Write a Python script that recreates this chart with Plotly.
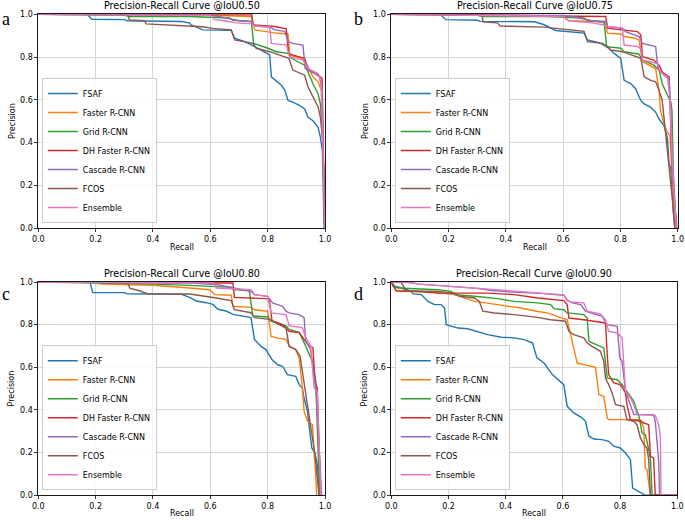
import plotly.graph_objects as go

# ---------------- data: (recall, precision) points ----------------
SERIES = ["FSAF", "Faster R-CNN", "Grid R-CNN", "DH Faster R-CNN", "Cascade R-CNN", "FCOS", "Ensemble"]
COLORS = ["#1f77b4", "#ff7f0e", "#2ca02c", "#d62728", "#9467bd", "#8c564b", "#e377c2"]
TITLES = ["Precision-Recall Curve @IoU0.50", "Precision-Recall Curve @IoU0.75",
          "Precision-Recall Curve @IoU0.80", "Precision-Recall Curve @IoU0.90"]
PANEL_LETTERS = ["a", "b", "c", "d"]
TICKS = [0.0, 0.2, 0.4, 0.6, 0.8, 1.0]

# Panel a  (IoU 0.50)
A_FSAF = [(0, 1.0), (0.171, 1.0), (0.186, 0.977), (0.30, 0.975), (0.31, 0.970), (0.50, 0.966), (0.528, 0.959),
          (0.533, 0.95), (0.574, 0.927), (0.673, 0.925), (0.685, 0.888), (0.72, 0.872), (0.755, 0.849),
          (0.784, 0.825), (0.807, 0.81), (0.813, 0.707), (0.83, 0.69), (0.848, 0.668), (0.86, 0.644),
          (0.871, 0.597), (0.888, 0.589), (0.912, 0.573), (0.929, 0.557), (0.941, 0.518), (0.958, 0.502),
          (0.976, 0.471), (0.984, 0.424), (0.991, 0.361), (0.993, 0.235), (0.997, 0.0)]
A_FASTER = [(0, 1.0), (0.3, 1.0), (0.6, 0.995), (0.743, 0.99), (0.755, 0.927), (0.795, 0.919), (0.836, 0.911),
            (0.871, 0.908), (0.877, 0.809), (0.923, 0.794), (0.941, 0.754), (0.958, 0.707), (0.976, 0.684),
            (0.987, 0.644), (0.993, 0.392), (0.999, 0.0)]
A_GRID = [(0, 1.0), (0.3, 0.995), (0.32, 0.99), (0.528, 0.99), (0.667, 0.983), (0.679, 0.972), (0.743, 0.967),
          (0.751, 0.864), (0.801, 0.841), (0.83, 0.825), (0.871, 0.817), (0.883, 0.794), (0.929, 0.762),
          (0.941, 0.73), (0.958, 0.675), (0.976, 0.628), (0.984, 0.58), (0.993, 0.392), (0.999, 0.0)]
A_DH = [(0, 1.0), (0.745, 0.998), (0.749, 0.951), (0.824, 0.943), (0.865, 0.932), (0.873, 0.817), (0.888, 0.809),
        (0.929, 0.794), (0.941, 0.739), (0.976, 0.715), (0.99, 0.699), (0.993, 0.392), (0.999, 0.0)]
A_CASCADE = [(0, 1.0), (0.6, 0.995), (0.63, 0.99), (0.65, 0.985), (0.7, 0.97), (0.745, 0.965), (0.755, 0.945),
             (0.81, 0.94), (0.824, 0.927), (0.86, 0.92), (0.871, 0.872), (0.888, 0.864), (0.923, 0.856),
             (0.931, 0.746), (0.958, 0.73), (0.981, 0.707), (0.99, 0.644), (0.993, 0.392), (0.999, 0.0)]
A_FCOS = [(0, 1.0), (0.312, 1.0), (0.318, 0.973), (0.37, 0.97), (0.376, 0.955), (0.50, 0.945), (0.573, 0.942),
          (0.608, 0.934), (0.673, 0.927), (0.685, 0.88), (0.72, 0.872), (0.749, 0.864), (0.76, 0.841),
          (0.807, 0.825), (0.842, 0.809), (0.874, 0.794), (0.888, 0.739), (0.912, 0.723), (0.929, 0.715),
          (0.941, 0.66), (0.958, 0.613), (0.976, 0.566), (0.984, 0.518), (0.993, 0.392), (0.999, 0.0)]
A_ENSEMBLE = [(0, 1.0), (0.6, 0.995), (0.615, 0.975), (0.65, 0.97), (0.69, 0.96), (0.745, 0.955), (0.755, 0.945),
              (0.807, 0.94), (0.813, 0.864), (0.865, 0.856), (0.877, 0.802), (0.923, 0.786), (0.941, 0.746),
              (0.976, 0.723), (0.987, 0.691), (0.993, 0.392), (0.999, 0.0)]

# Panel b  (IoU 0.75)
B_FSAF = [(0, 1.0), (0.17, 1.0), (0.19, 0.975), (0.30, 0.972), (0.31, 0.967), (0.50, 0.965), (0.534, 0.951),
          (0.574, 0.924), (0.673, 0.912), (0.685, 0.88), (0.731, 0.865), (0.76, 0.841), (0.778, 0.817),
          (0.801, 0.794), (0.813, 0.691), (0.836, 0.676), (0.853, 0.652), (0.871, 0.597), (0.883, 0.581),
          (0.906, 0.565), (0.923, 0.542), (0.935, 0.51), (0.952, 0.479), (0.964, 0.424), (0.97, 0.298),
          (0.976, 0.28), (0.985, 0.07), (0.99, 0.0)]
B_FASTER = [(0, 1.0), (0.3, 1.0), (0.6, 0.99), (0.62, 0.97), (0.745, 0.965), (0.755, 0.912), (0.801, 0.908),
            (0.813, 0.896), (0.853, 0.888), (0.865, 0.88), (0.877, 0.778), (0.9, 0.762), (0.923, 0.746),
            (0.935, 0.644), (0.94, 0.55), (0.952, 0.487), (0.964, 0.448), (0.973, 0.432), (0.982, 0.2), (0.99, 0.0)]
B_GRID = [(0, 1.0), (0.3, 0.995), (0.32, 0.99), (0.534, 0.99), (0.673, 0.983), (0.685, 0.972), (0.743, 0.962),
          (0.752, 0.849), (0.801, 0.841), (0.813, 0.825), (0.865, 0.813), (0.877, 0.786), (0.917, 0.762),
          (0.935, 0.739), (0.946, 0.675), (0.964, 0.628), (0.976, 0.589), (0.98, 0.55), (0.985, 0.25), (0.995, 0.0)]
B_DH = [(0, 1.0), (0.749, 0.99), (0.755, 0.935), (0.801, 0.927), (0.859, 0.919), (0.871, 0.904), (0.877, 0.802),
        (0.917, 0.786), (0.935, 0.762), (0.946, 0.73), (0.964, 0.715), (0.97, 0.707), (0.98, 0.3), (0.99, 0.1),
        (0.998, 0.0)]
B_CASCADE = [(0, 1.0), (0.6, 0.995), (0.65, 0.985), (0.7, 0.97), (0.749, 0.967), (0.755, 0.943), (0.807, 0.935),
             (0.818, 0.919), (0.865, 0.896), (0.877, 0.864), (0.923, 0.849), (0.931, 0.746), (0.952, 0.715),
             (0.97, 0.699), (0.976, 0.55), (0.982, 0.25), (0.995, 0.0)]
B_FCOS = [(0, 1.0), (0.275, 1.0), (0.317, 0.995), (0.32, 0.965), (0.37, 0.96), (0.38, 0.945), (0.534, 0.94),
          (0.60, 0.93), (0.673, 0.92), (0.685, 0.872), (0.737, 0.864), (0.755, 0.849), (0.766, 0.833),
          (0.807, 0.825), (0.842, 0.809), (0.871, 0.794), (0.883, 0.707), (0.906, 0.691), (0.923, 0.684),
          (0.935, 0.644), (0.946, 0.597), (0.952, 0.518), (0.962, 0.392), (0.973, 0.266), (0.981, 0.14), (0.99, 0.0)]
B_ENSEMBLE = [(0, 1.0), (0.6, 0.99), (0.62, 0.97), (0.70, 0.96), (0.745, 0.95), (0.755, 0.943), (0.807, 0.935),
              (0.813, 0.856), (0.859, 0.849), (0.871, 0.841), (0.877, 0.786), (0.929, 0.77), (0.94, 0.73),
              (0.964, 0.707), (0.973, 0.613), (0.981, 0.313), (0.995, 0.0)]

# Panel c  (IoU 0.80)
C_FSAF = [(0, 1.0), (0.18, 1.0), (0.19, 0.95), (0.30, 0.95), (0.31, 0.945), (0.50, 0.942), (0.528, 0.928),
          (0.551, 0.911), (0.586, 0.903), (0.609, 0.895), (0.627, 0.872), (0.655, 0.864), (0.679, 0.848),
          (0.713, 0.841), (0.742, 0.833), (0.754, 0.73), (0.777, 0.698), (0.794, 0.683), (0.815, 0.636),
          (0.835, 0.612), (0.852, 0.605), (0.869, 0.566), (0.898, 0.558), (0.91, 0.519), (0.921, 0.503),
          (0.927, 0.456), (0.939, 0.394), (0.944, 0.331), (0.954, 0.222), (0.965, 0.198), (0.973, 0.144),
          (0.981, 0.02), (0.985, 0.0)]
C_FASTER = [(0, 1.0), (0.2, 1.0), (0.22, 0.99), (0.4, 0.985), (0.528, 0.972), (0.598, 0.964), (0.615, 0.941),
            (0.673, 0.938), (0.679, 0.886), (0.742, 0.881), (0.754, 0.87), (0.8, 0.863), (0.812, 0.745),
            (0.835, 0.737), (0.864, 0.731), (0.875, 0.7), (0.898, 0.683), (0.91, 0.644), (0.921, 0.503),
            (0.927, 0.394), (0.939, 0.347), (0.956, 0.331), (0.968, 0.081), (0.971, 0.0)]
C_GRID = [(0, 1.0), (0.3, 0.995), (0.4, 0.99), (0.528, 0.984), (0.673, 0.975), (0.679, 0.964), (0.736, 0.959),
          (0.748, 0.841), (0.8, 0.836), (0.812, 0.817), (0.864, 0.794), (0.875, 0.778), (0.91, 0.763),
          (0.927, 0.716), (0.944, 0.659), (0.956, 0.628), (0.968, 0.534), (0.973, 0.316), (0.981, 0.0)]
C_DH = [(0, 1.0), (0.679, 0.995), (0.684, 0.928), (0.794, 0.922), (0.806, 0.917), (0.815, 0.819), (0.852, 0.8),
        (0.875, 0.769), (0.91, 0.763), (0.927, 0.731), (0.944, 0.7), (0.958, 0.692), (0.965, 0.534),
        (0.973, 0.503), (0.979, 0.238), (0.985, 0.0)]
C_CASCADE = [(0, 1.0), (0.528, 0.995), (0.621, 0.988), (0.684, 0.972), (0.742, 0.956), (0.754, 0.941),
             (0.8, 0.933), (0.817, 0.902), (0.852, 0.886), (0.864, 0.863), (0.875, 0.855), (0.91, 0.847),
             (0.927, 0.833), (0.933, 0.722), (0.95, 0.683), (0.962, 0.55), (0.968, 0.503), (0.979, 0.238),
             (0.988, 0.0)]
C_FCOS = [(0, 1.0), (0.31, 1.0), (0.32, 0.97), (0.35, 0.96), (0.38, 0.945), (0.528, 0.944), (0.621, 0.925),
          (0.673, 0.913), (0.684, 0.87), (0.742, 0.856), (0.754, 0.833), (0.806, 0.825), (0.84, 0.8),
          (0.864, 0.784), (0.875, 0.698), (0.898, 0.683), (0.913, 0.652), (0.921, 0.581), (0.927, 0.519),
          (0.939, 0.425), (0.95, 0.331), (0.965, 0.19), (0.973, 0.081), (0.979, 0.0)]
C_ENSEMBLE = [(0, 1.0), (0.61, 0.995), (0.621, 0.972), (0.742, 0.964), (0.754, 0.941), (0.8, 0.933),
              (0.812, 0.855), (0.864, 0.847), (0.875, 0.794), (0.921, 0.786), (0.933, 0.739), (0.95, 0.7),
              (0.962, 0.503), (0.973, 0.488), (0.985, 0.0)]

# Panel d  (IoU 0.90)
D_FSAF = [(0, 1.0), (0.012, 0.98), (0.035, 0.972), (0.07, 0.956), (0.076, 0.944), (0.105, 0.941), (0.128, 0.909),
          (0.151, 0.894), (0.174, 0.894), (0.186, 0.878), (0.192, 0.8), (0.233, 0.784), (0.267, 0.781),
          (0.302, 0.766), (0.337, 0.753), (0.384, 0.741), (0.43, 0.738), (0.465, 0.73), (0.494, 0.714),
          (0.509, 0.644), (0.534, 0.62), (0.563, 0.566), (0.592, 0.534), (0.603, 0.519), (0.615, 0.417),
          (0.638, 0.386), (0.667, 0.363), (0.679, 0.347), (0.691, 0.277), (0.708, 0.264), (0.737, 0.261),
          (0.76, 0.253), (0.778, 0.23), (0.801, 0.222), (0.819, 0.198), (0.836, 0.167), (0.844, 0.034),
          (0.859, 0.023), (0.877, 0.011), (0.888, 0.0), (1.0, 0.0)]
D_FASTER = [(0, 1.0), (0.009, 0.975), (0.017, 0.959), (0.058, 0.955), (0.15, 0.952), (0.221, 0.941),
            (0.291, 0.909), (0.372, 0.894), (0.453, 0.878), (0.512, 0.862), (0.545, 0.855), (0.58, 0.839),
            (0.615, 0.823), (0.627, 0.753), (0.638, 0.691), (0.65, 0.62), (0.685, 0.609), (0.714, 0.6),
            (0.726, 0.472), (0.743, 0.464), (0.755, 0.363), (0.76, 0.355), (0.871, 0.355), (0.883, 0.316),
            (0.888, 0.128), (0.894, 0.12), (0.906, 0.0), (1.0, 0.0)]
D_GRID = [(0, 1.0), (0.006, 0.98), (0.023, 0.972), (0.105, 0.969), (0.163, 0.964), (0.209, 0.956), (0.221, 0.941),
          (0.291, 0.933), (0.372, 0.922), (0.43, 0.909), (0.512, 0.902), (0.557, 0.894), (0.569, 0.875),
          (0.603, 0.87), (0.615, 0.855), (0.673, 0.847), (0.685, 0.831), (0.691, 0.722), (0.72, 0.706),
          (0.743, 0.691), (0.755, 0.55), (0.79, 0.542), (0.807, 0.519), (0.824, 0.488), (0.848, 0.441),
          (0.859, 0.394), (0.865, 0.378), (0.877, 0.292), (0.888, 0.284), (0.894, 0.253), (0.906, 0.175),
          (0.912, 0.0), (1.0, 0.0)]
D_DH = [(0, 1.0), (0.01, 0.975), (0.017, 0.959), (0.093, 0.956), (0.163, 0.948), (0.337, 0.948), (0.43, 0.941),
        (0.512, 0.925), (0.603, 0.913), (0.615, 0.894), (0.621, 0.831), (0.673, 0.823), (0.708, 0.816),
        (0.749, 0.808), (0.755, 0.659), (0.76, 0.566), (0.778, 0.527), (0.801, 0.519), (0.819, 0.48),
        (0.824, 0.425), (0.836, 0.355), (0.871, 0.347), (0.883, 0.339), (0.9, 0.331), (0.906, 0.183),
        (0.917, 0.175), (0.923, 0.0), (1.0, 0.0)]
D_CASCADE = [(0, 1.0), (0.05, 1.0), (0.1, 0.99), (0.2, 0.98), (0.3, 0.97), (0.35, 0.96), (0.4, 0.955),
             (0.51, 0.948), (0.603, 0.938), (0.615, 0.913), (0.633, 0.902), (0.662, 0.894), (0.679, 0.863),
             (0.697, 0.855), (0.737, 0.839), (0.755, 0.8), (0.79, 0.792), (0.799, 0.644), (0.807, 0.628),
             (0.819, 0.488), (0.836, 0.417), (0.848, 0.378), (0.917, 0.378), (0.923, 0.347), (0.935, 0.159),
             (0.938, 0.0), (1.0, 0.0)]
D_FCOS = [(0, 1.0), (0.035, 0.997), (0.052, 0.959), (0.163, 0.956), (0.221, 0.948), (0.238, 0.933),
          (0.291, 0.925), (0.308, 0.909), (0.32, 0.863), (0.36, 0.855), (0.43, 0.847), (0.512, 0.834),
          (0.557, 0.823), (0.609, 0.816), (0.621, 0.769), (0.638, 0.753), (0.673, 0.738), (0.685, 0.714),
          (0.702, 0.698), (0.731, 0.675), (0.743, 0.628), (0.749, 0.55), (0.76, 0.519), (0.772, 0.48),
          (0.784, 0.425), (0.813, 0.417), (0.824, 0.355), (0.848, 0.347), (0.859, 0.331), (0.871, 0.269),
          (0.883, 0.238), (0.894, 0.222), (0.9, 0.167), (0.906, 0.0), (1.0, 0.0)]
D_ENSEMBLE = [(0, 1.0), (0.05, 1.0), (0.1, 0.99), (0.2, 0.98), (0.3, 0.97), (0.45, 0.955), (0.51, 0.95),
              (0.603, 0.94), (0.615, 0.917), (0.627, 0.906), (0.673, 0.902), (0.685, 0.863), (0.731, 0.85),
              (0.749, 0.823), (0.76, 0.769), (0.79, 0.761), (0.807, 0.738), (0.813, 0.581), (0.819, 0.488),
              (0.836, 0.456), (0.848, 0.425), (0.859, 0.378), (0.923, 0.375), (0.935, 0.331), (0.941, 0.269),
              (0.943, 0.0), (1.0, 0.0)]

PANELS = [
    [A_FSAF, A_FASTER, A_GRID, A_DH, A_CASCADE, A_FCOS, A_ENSEMBLE],
    [B_FSAF, B_FASTER, B_GRID, B_DH, B_CASCADE, B_FCOS, B_ENSEMBLE],
    [C_FSAF, C_FASTER, C_GRID, C_DH, C_CASCADE, C_FCOS, C_ENSEMBLE],
    [D_FSAF, D_FASTER, D_GRID, D_DH, D_CASCADE, D_FCOS, D_ENSEMBLE],
]

# ---------------- layout geometry (pixels of a 685x520 canvas) ----------------
W, H = 685, 520
FONT = "DejaVu Sans"
# plot areas: (left, right, top, bottom) in px
BOXES = [(38.3, 325.0, 14.3, 228.0), (391.3, 677.7, 14.3, 228.0),
         (38.3, 325.0, 282.0, 495.3), (391.3, 677.3, 282.0, 495.3)]
XLABEL_Y = [247.0, 247.0, 513.5, 513.5]


def px_x(v):
    return v / W


def px_y(v):
    return 1 - v / H


fig = go.Figure()
layout = dict(width=W, height=H, margin=dict(l=0, r=0, t=0, b=0, autoexpand=False),
              paper_bgcolor="white", plot_bgcolor="white",
              font=dict(family=FONT, size=8, color="#000000"))
annotations = []

for i, (curves, box) in enumerate(zip(PANELS, BOXES)):
    l, r, t, b = box
    sfx = "" if i == 0 else str(i + 1)
    xname, yname = "x" + sfx, "y" + sfx
    legname = "legend" + sfx
    axis_common = dict(range=[0, 1], tickvals=TICKS, tickformat=".1f", ticks="outside", ticklen=3,
                       tickwidth=0.8, tickcolor="#000000", showline=True, mirror=True, linecolor="#000000",
                       linewidth=0.9, showgrid=True, gridcolor="#d4d4d4", gridwidth=1, zeroline=False,
                       automargin=False,
                       tickfont=dict(family=FONT, size=8, color="#000000"), fixedrange=True)
    layout["xaxis" + sfx] = dict(axis_common, domain=[px_x(l), px_x(r)], anchor=yname)
    layout["yaxis" + sfx] = dict(axis_common, domain=[px_y(b), px_y(t)], anchor=xname)

    for name, color, pts in zip(SERIES, COLORS, curves):
        fig.add_trace(go.Scatter(
            x=[p[0] for p in pts], y=[p[1] for p in pts], mode="lines", name=name,
            line=dict(color=color, width=1.4), xaxis=xname, yaxis=yname, legend=legname,
            showlegend=True))

    layout[legname] = dict(x=px_x(l + 3.5), y=px_y(b - 5), xanchor="left", yanchor="bottom",
                           bgcolor="rgba(255,255,255,0.85)", bordercolor="#cccccc", borderwidth=1,
                           font=dict(family=FONT, size=8, color="#000000"), itemwidth=30,
                           tracegroupgap=0)

    cx = (l + r) / 2
    # title
    annotations.append(dict(text=TITLES[i], x=px_x(cx), y=px_y(t - 8.5), xref="paper", yref="paper",
                            showarrow=False, xanchor="center", yanchor="middle",
                            font=dict(family=FONT, size=9.6, color="#000000")))
    # x label
    annotations.append(dict(text="Recall", x=px_x(cx), y=px_y(XLABEL_Y[i]), xref="paper", yref="paper",
                            showarrow=False, xanchor="center", yanchor="middle",
                            font=dict(family=FONT, size=8, color="#000000")))
    # y label
    annotations.append(dict(text="Precision", x=px_x(l - 26.5), y=px_y((t + b) / 2), xref="paper", yref="paper",
                            showarrow=False, xanchor="center", yanchor="middle", textangle=-90,
                            font=dict(family=FONT, size=8, color="#000000")))
    # panel letter
    annotations.append(dict(text=PANEL_LETTERS[i], x=px_x(l - 32.5), y=px_y(t + 5 + (7 if i >= 2 else 0)),
                            xref="paper", yref="paper", showarrow=False, xanchor="center", yanchor="middle",
                            font=dict(family="Liberation Serif", size=18, color="#000000")))

layout["annotations"] = annotations
layout["hovermode"] = False
fig.update_layout(**layout)
# remove the browser's default 8px body margin so the 685x520 figure fills the window exactly
fig.write_html("out.html", config={"displayModeBar": False, "staticPlot": True},
               post_script="document.body.style.margin='0px';document.body.style.overflow='hidden';")
